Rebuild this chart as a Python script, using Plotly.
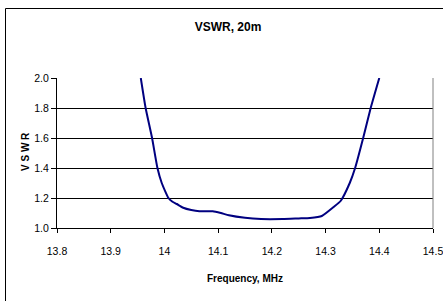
import plotly.graph_objects as go

freq_mhz = [13.956, 13.965, 13.977, 13.987, 13.995, 14.0075, 14.015, 14.023, 14.035, 14.05,
            14.065, 14.09, 14.105, 14.12, 14.15, 14.18, 14.22, 14.25, 14.271, 14.293,
            14.315, 14.328, 14.345, 14.355, 14.37, 14.384, 14.40]
vswr = [2.0, 1.8, 1.6, 1.4, 1.3, 1.2, 1.175, 1.16, 1.135, 1.12,
        1.112, 1.112, 1.1, 1.085, 1.068, 1.06, 1.06, 1.064, 1.067, 1.08,
        1.14, 1.18, 1.3, 1.4, 1.6, 1.8, 2.0]

x_ticks = [13.8, 13.9, 14.0, 14.1, 14.2, 14.3, 14.4, 14.5]
x_tick_labels = ["13.8", "13.9", "14", "14.1", "14.2", "14.3", "14.4", "14.5"]
y_ticks = [1.0, 1.2, 1.4, 1.6, 1.8, 2.0]
y_tick_labels = ["1.0", "1.2", "1.4", "1.6", "1.8", "2.0"]

FONT = "Liberation Sans, Arial, sans-serif"

fig = go.Figure()
fig.add_trace(go.Scatter(
    x=freq_mhz, y=vswr, mode="lines",
    line=dict(color="#000080", width=2, shape="spline", smoothing=0.5),
    showlegend=False, hoverinfo="skip"))

W, H = 443, 301
ml, mr, mt, mb = 57, 10, 78, 73
pw, ph = W - ml - mr, H - mt - mb

def px_to_paper_x(px):
    return (px - ml) / pw

def px_to_paper_y(py):
    return (H - mb - py) / ph

fig.update_layout(
    width=W, height=H,
    margin=dict(l=ml, r=mr, t=mt, b=mb, autoexpand=False),
    paper_bgcolor="white", plot_bgcolor="white",
    font=dict(family=FONT, color="black", size=10),
    title=dict(text="<b>VSWR, 20m</b>", x=px_to_paper_x(228), xref="paper", xanchor="center",
               y=1 - 27 / H, yanchor="middle", font=dict(size=12, family=FONT)),
    xaxis=dict(range=[13.8, 14.5], tickvals=x_ticks, ticktext=x_tick_labels,
               showgrid=False, zeroline=False, showline=True, linecolor="black", linewidth=1,
               ticks="outside", ticklen=4, tickcolor="black", tickwidth=1,
               ticklabelstandoff=9, ticklabeloverflow="allow", automargin=False,
               tickfont=dict(size=10.5, family=FONT)),
    yaxis=dict(range=[1.0, 2.0], tickvals=y_ticks, ticktext=y_tick_labels,
               showgrid=True, gridcolor="black", gridwidth=1, zeroline=False,
               showline=True, linecolor="black", linewidth=1, automargin=False,
               ticks="outside", ticklen=5, tickcolor="black", tickwidth=1,
               tickfont=dict(size=10.5, family=FONT)),
    shapes=[
        dict(type="rect", xref="paper", yref="paper",
             x0=px_to_paper_x(5.5), x1=px_to_paper_x(450),
             y0=px_to_paper_y(310), y1=px_to_paper_y(8.5),
             line=dict(color="black", width=1), fillcolor="rgba(0,0,0,0)", layer="below"),
        dict(type="line", xref="paper", yref="paper", x0=1, x1=1, y0=0, y1=1,
             line=dict(color="#808080", width=1)),
    ],
    annotations=[
        dict(text="<b>Frequency, MHz</b>", xref="paper", yref="paper",
             x=px_to_paper_x(245), y=px_to_paper_y(278), xanchor="center", yanchor="middle",
             showarrow=False, font=dict(size=10, family=FONT)),
        dict(text="<b>V S W R</b>", xref="paper", yref="paper", textangle=-90,
             x=px_to_paper_x(25), y=px_to_paper_y(152), xanchor="center", yanchor="middle",
             showarrow=False, font=dict(size=10, family=FONT)),
    ],
)

fig.write_html("out.html", config={"displayModeBar": False},
               post_script="document.body.style.margin='0';document.body.style.overflow='hidden';")
